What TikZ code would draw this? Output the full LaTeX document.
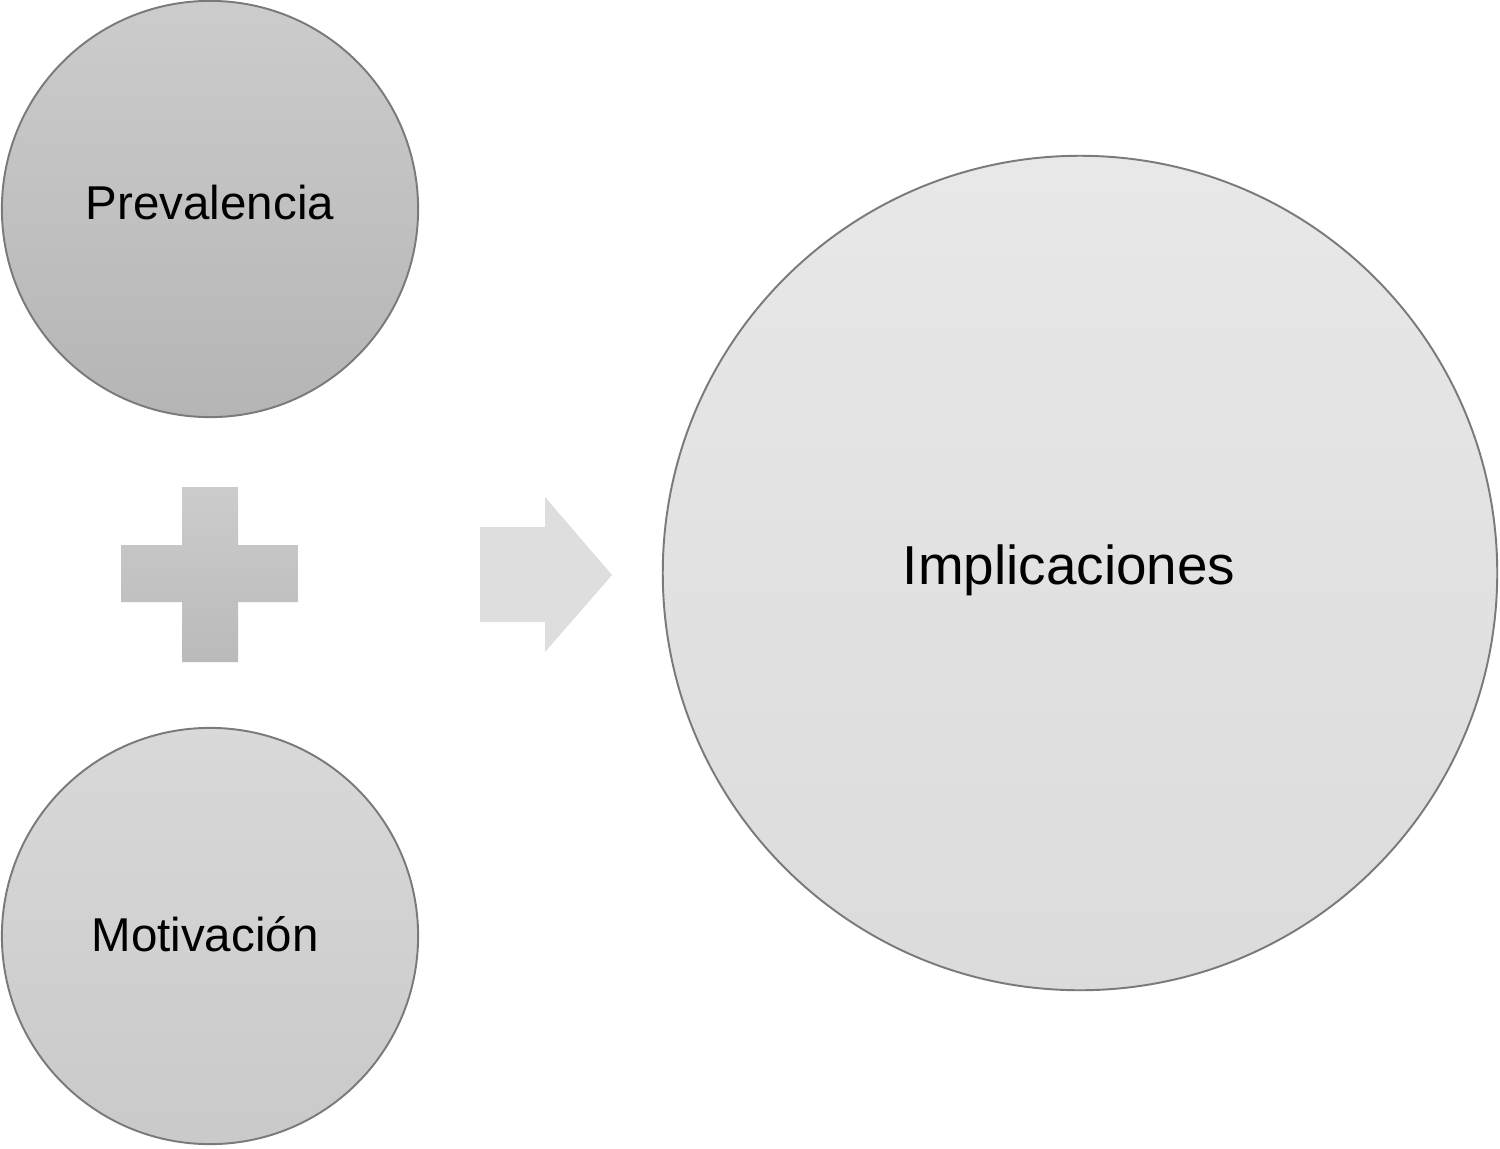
\documentclass[tikz,border=0pt]{standalone}
\usepackage{fontspec}
\setmainfont{Liberation Sans}
\usetikzlibrary{shadings}
\definecolor{ringline}{HTML}{7A7A7A}
\tikzset{
  bubble/.style={circle, draw=ringline, line width=0.55pt, inner sep=0pt, text=black},
  smallbubble/.style={bubble, minimum size=4.16cm, font=\fontsize{13.5}{16}\selectfont},
  bigbubble/.style={bubble, minimum size=8.34cm, font=\fontsize{15.6}{18}\selectfont},
}
\begin{document}
\begin{tikzpicture}[x=0.01cm,y=-0.01cm]
\useasboundingbox[fill=white] (0,0) rectangle (1500,1148);
\node[smallbubble, top color=black!20, bottom color=black!29] (prev) at (210,209) {\raisebox{0.5ex}{Prevalencia}};
\node[smallbubble, top color=black!15, bottom color=black!21] (moti) at (210,936) {\hspace*{-0.1cm}\raisebox{0.15ex}{Motivación}};
\node[bigbubble, top color=black!9, bottom color=black!14] (impl) at (1080,573) {\hspace*{-0.22cm}\raisebox{0.6ex}{Implicaciones}};
% plus sign
\shade[top color=black!20, bottom color=black!27]
  (182,487) -- (238,487) -- (238,545) -- (298,545) -- (298,602) -- (238,602)
  -- (238,662) -- (182,662) -- (182,602) -- (121,602) -- (121,545) -- (182,545) -- cycle;
% arrow
\fill[black!13]
  (480,527) -- (545,527) -- (545,497) -- (612,575) -- (545,652) -- (545,622) -- (480,622) -- cycle;
\end{tikzpicture}
\end{document}
